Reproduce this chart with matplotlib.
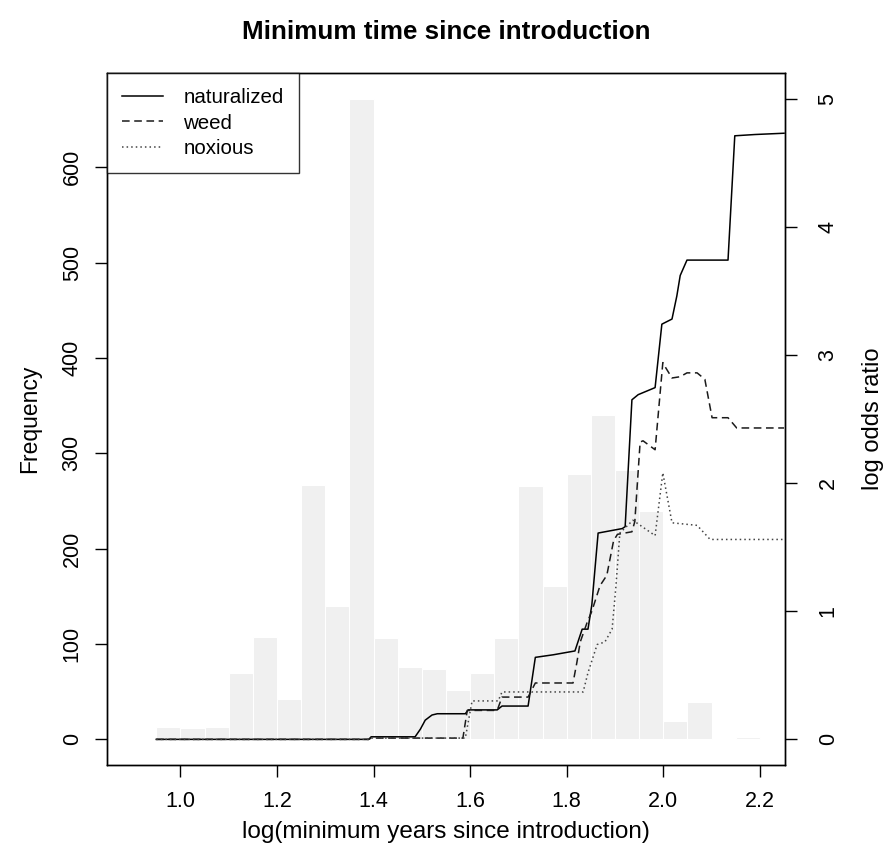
import numpy as np
import matplotlib
matplotlib.use("Agg")
import matplotlib.pyplot as plt

plt.rcParams['font.family'] = ['Liberation Sans', 'DejaVu Sans']

# histogram of log(minimum years since introduction), bins of 0.05
bin_edges = np.round(np.arange(0.95, 2.2001, 0.05), 2)
counts = [13, 12, 13, 70, 107, 42, 267, 140, 672, 106, 76, 74, 52, 70, 106,
          266, 161, 278, 340, 283, 240, 19, 39, 0, 2]

# log odds ratio curves (right axis)
nat_x = [0.95, 1.39, 1.395, 1.486, 1.497, 1.507, 1.521, 1.532, 1.590, 1.596, 1.656,
         1.666, 1.720, 1.735, 1.772, 1.817, 1.832, 1.844, 1.852, 1.865, 1.915, 1.921,
         1.935, 1.948, 1.983, 1.997, 2.018, 2.028, 2.035, 2.049, 2.134, 2.148, 2.190, 2.25]
nat_y = [0, 0, 0.02, 0.02, 0.08, 0.15, 0.19, 0.20, 0.20, 0.23, 0.23,
         0.26, 0.26, 0.64, 0.66, 0.69, 0.86, 0.86, 1.05, 1.61, 1.645, 1.66,
         2.65, 2.69, 2.745, 3.24, 3.28, 3.46, 3.62, 3.74, 3.74, 4.71, 4.72, 4.73]

weed_x = [0.95, 1.39, 1.395, 1.585, 1.594, 1.656, 1.666, 1.720, 1.735, 1.813, 1.821,
          1.828, 1.842, 1.852, 1.869, 1.883, 1.897, 1.905, 1.935, 1.941, 1.952, 1.958,
          1.983, 1.999, 2.005, 2.018, 2.035, 2.049, 2.070, 2.086, 2.101, 2.134, 2.152, 2.25]
weed_y = [0, 0, 0.01, 0.01, 0.226, 0.226, 0.33, 0.33, 0.44, 0.44, 0.6,
          0.76, 0.91, 1.0, 1.2, 1.28, 1.55, 1.6, 1.62, 1.7, 2.32, 2.33,
          2.26, 2.94, 2.9, 2.82, 2.83, 2.86, 2.86, 2.81, 2.51, 2.51, 2.43, 2.43]

nox_x = [0.95, 1.39, 1.395, 1.590, 1.604, 1.658, 1.666, 1.834, 1.844, 1.863, 1.879,
         1.894, 1.902, 1.910, 1.937, 1.983, 1.999, 2.018, 2.070, 2.097, 2.25]
nox_y = [0, 0, 0.01, 0.01, 0.30, 0.30, 0.37, 0.37, 0.52, 0.74, 0.76,
         0.86, 1.2, 1.61, 1.71, 1.59, 2.08, 1.69, 1.67, 1.56, 1.56]

x_ticks = [1.0, 1.2, 1.4, 1.6, 1.8, 2.0, 2.2]
freq_ticks = [0, 100, 200, 300, 400, 500, 600]
odds_ticks = [0, 1, 2, 3, 4, 5]

W, H = 888, 847
fig = plt.figure(figsize=(W / 100, H / 100), dpi=100)
ax = fig.add_axes([107 / W, 1 - 765 / H, (785 - 107) / W, (765 - 73) / H])

ax.bar(bin_edges[:-1], counts, width=np.diff(bin_edges), align='edge',
       color='#f0f0f0', edgecolor='white', linewidth=0.8)
ax.set_xlim(0.848, 2.252)
ax.set_ylim(-26.9, 698.9)
ax.set_xticks(x_ticks)
ax.set_xticklabels(['%.1f' % v for v in x_ticks])
ax.set_yticks(freq_ticks)
ax.tick_params(axis='both', labelsize=15.5, length=8.5, width=1, pad=10)
ax.tick_params(axis='y', labelrotation=90, pad=9)
for lab in ax.get_yticklabels():
    lab.set_va('center')
ax.set_xlabel('log(minimum years since introduction)', fontsize=17.5, labelpad=7)
ax.set_ylabel('Frequency', fontsize=16.5, labelpad=15)

ax2 = ax.twinx()
ax2.plot(nat_x, nat_y, color='black', lw=1.1, label='naturalized')
ax2.plot(weed_x, weed_y, color='#1a1a1a', lw=1.1, linestyle=(0, (5, 3)), label='weed')
ax2.plot(nox_x, nox_y, color='#444444', lw=1.1, linestyle=(0, (1, 2)), label='noxious')
ax2.set_ylim(-0.2, 5.2)
ax2.set_yticks(odds_ticks)
ax2.tick_params(axis='y', labelsize=15.5, length=8.5, width=1, pad=15, labelrotation=90)
for lab in ax2.get_yticklabels():
    lab.set_va('center')
ax2.set_ylabel('log odds ratio', fontsize=17, labelpad=17)

for a in (ax, ax2):
    for s in a.spines.values():
        s.set_linewidth(1.0)

leg = ax2.legend(loc='upper left', bbox_to_anchor=(0, 1), borderaxespad=0,
                 fontsize=14.8, frameon=True, fancybox=False, handlelength=2.0,
                 handletextpad=1.0, labelspacing=0.33, borderpad=0.72)
leg.get_frame().set_edgecolor('black')
leg.get_frame().set_linewidth(1.0)

fig.suptitle('Minimum time since introduction', x=(107 + 785) / 2 / W, y=1 - 20 / H,
             fontsize=18.7, fontweight='bold', va='top')

fig.savefig('out.png', dpi=100)
